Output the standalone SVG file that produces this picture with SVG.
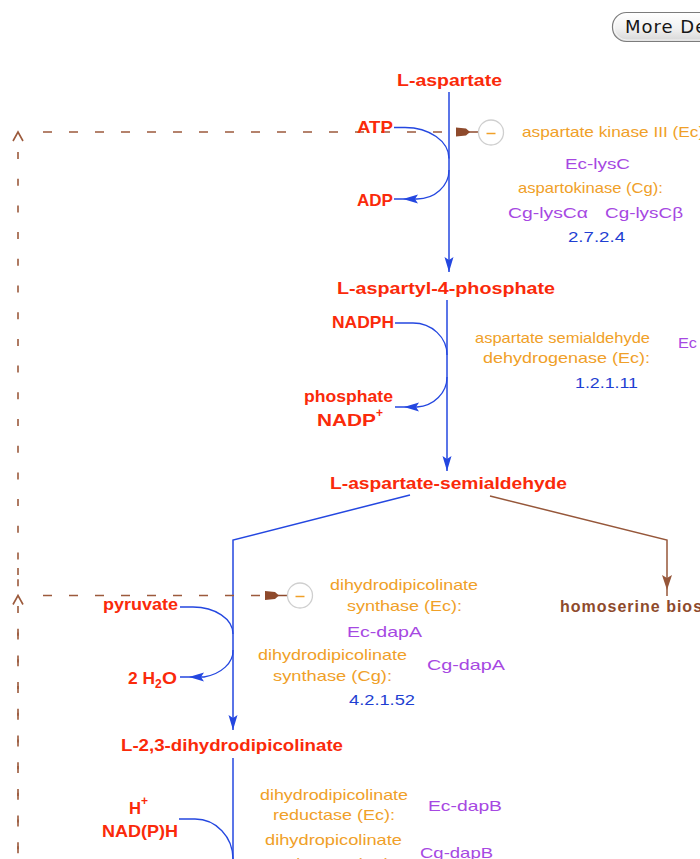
<svg xmlns="http://www.w3.org/2000/svg" xmlns:xlink="http://www.w3.org/1999/xlink" width="700" height="859" viewBox="0 0 700 859">
  <style>
    text { font-family: "Liberation Sans", Arial, sans-serif; }
    .met { font-size: 17px; font-weight: bold; fill: #fa2a0a; }
    .sup { font-size: 12px; font-weight: bold; fill: #fa2a0a; }
    .enz { font-size: 15px; fill: #f0a028; }
    .gene { font-size: 15px; fill: #a648e2; }
    .ec { font-size: 15px; fill: #1f3fd2; }
    .path-out { font-size: 16px; font-weight: bold; fill: #8e4a2c; letter-spacing: 1px; }
    .rxn { fill: none; stroke: #2447e0; stroke-width: 1.5; }
    .side { fill: none; stroke: #2447e0; stroke-width: 1.3; }
    .branch { fill: none; stroke: #96573a; stroke-width: 1.5; }
    .reg { fill: none; stroke: #9c5a3c; stroke-width: 1.6; stroke-dasharray: 9 17; }
    .regv { fill: none; stroke: #9c5a3c; stroke-width: 1.6; stroke-dasharray: 7 19.7; }
    .badge circle { fill: #fff; stroke: #cfcfcf; stroke-width: 1.3; }
    .badge line { stroke: #f0a028; stroke-width: 1.5; }
  </style>
  <defs>
    <linearGradient id="btnFill" x1="0" y1="0" x2="0" y2="1">
      <stop offset="0" stop-color="#ffffff"/>
      <stop offset="0.55" stop-color="#f1f1f1"/>
      <stop offset="1" stop-color="#d6d6d6"/>
    </linearGradient>
    <!-- filled arrowhead, tip at the end of the line -->
    <marker id="arrowBlue" markerUnits="userSpaceOnUse" markerWidth="20" markerHeight="12" refX="15" refY="0" orient="auto" overflow="visible">
      <path d="M0,-4.5 L15,0 L0,4.5 L3,0 z" fill="#2447e0"/>
    </marker>
    <!-- filled arrowhead set back from the end of the line -->
    <marker id="arrowBlueInset" markerUnits="userSpaceOnUse" markerWidth="30" markerHeight="12" refX="24" refY="0" orient="auto" overflow="visible">
      <path d="M0,-4.5 L15,0 L0,4.5 L3,0 z" fill="#2447e0"/>
    </marker>
    <marker id="arrowBrown" markerUnits="userSpaceOnUse" markerWidth="26" markerHeight="12" refX="21" refY="0" orient="auto" overflow="visible">
      <path d="M0,-5 L15,0 L0,5 L3,0 z" fill="#96573a"/>
    </marker>
    <path id="inhibHead" d="M0,-4.5 L10,-3.5 L14,0 L10,3.5 L0,4.5 z" fill="#8e4a2c"/>
    <g id="minusBadge" class="badge">
      <circle cx="0" cy="0" r="12.5"/>
      <line x1="-4.5" y1="1" x2="4.5" y2="1"/>
    </g>
  </defs>

  <rect width="700" height="859" fill="#ffffff"/>

  <!-- "More Detail" button, clipped by the right edge -->
  <g id="more-button">
    <rect x="612.5" y="12.5" width="110" height="29" rx="14" ry="14" fill="url(#btnFill)" stroke="#7c7c7c" stroke-width="1.2"/>
    <rect x="614" y="14" width="107" height="26" rx="13" ry="13" fill="none" stroke="#ffffff" stroke-width="0.8" opacity="0.8"/>
    <text x="625" y="33" style="font-family: 'DejaVu Sans', sans-serif; font-size: 18px; fill: #161616; letter-spacing: 1px;">More De</text>
  </g>

  <!-- connectors -->
  <g id="connectors">
    <!-- main reaction arrows -->
    <path class="rxn" d="M449,92 V272" marker-end="url(#arrowBlue)"/>
    <path class="rxn" d="M447,300 V471" marker-end="url(#arrowBlue)"/>
    <path class="rxn" d="M410,495 L233,540 V730" marker-end="url(#arrowBlue)"/>
    <path class="rxn" d="M233,758 V860"/>
    <path class="branch" d="M490,496 L667,540 V596" marker-end="url(#arrowBrown)"/>

    <!-- side reactants -->
    <path class="side" d="M394,127.5 H405 A44,31 0 0 1 449,158.5"/>
    <path class="side" d="M449,170 A32,29 0 0 1 417,199 H394" marker-end="url(#arrowBlueInset)"/>
    <path class="side" d="M395,323 H413 A34,32 0 0 1 447,355"/>
    <path class="side" d="M447,377 A32,30 0 0 1 417,407 H395" marker-end="url(#arrowBlueInset)"/>
    <path class="side" d="M180,607 H193 A40,27 0 0 1 233,634"/>
    <path class="side" d="M233,650 A38,27 0 0 1 204,677 H180" marker-end="url(#arrowBlueInset)"/>
    <path class="side" d="M179,819 H195 A38,40 0 0 1 233,859"/>

    <!-- feedback inhibition (dashed) -->
    <path class="reg" d="M43,132 H455"/>
    <path class="reg" d="M43,595.5 H264"/>
    <path class="regv" d="M18,152 V860"/>
    <path class="regv" d="M18,568 V582"/>
    <path class="regv" d="M18,610 V860" style="stroke-dashoffset: 8"/>
    <path d="M13,141 L18,132 L23,141" fill="none" stroke="#9c5a3c" stroke-width="1.6"/>
    <path d="M13,604.5 L18,595.5 L23,604.5" fill="none" stroke="#9c5a3c" stroke-width="1.6"/>
    <use xlink:href="#inhibHead" x="456" y="132"/>
    <line x1="469" y1="132" x2="479" y2="132" stroke="#8e4a2c" stroke-width="1.5"/>
    <use xlink:href="#inhibHead" x="265" y="595.5"/>
    <line x1="278" y1="595.5" x2="288" y2="595.5" stroke="#8e4a2c" stroke-width="1.5"/>
    <use xlink:href="#minusBadge" x="491" y="132.5"/>
    <use xlink:href="#minusBadge" x="300" y="595.5"/>
  </g>

  <!-- compounds -->
  <g id="L-aspartate"><text class="met" x="397" y="86" textLength="105" lengthAdjust="spacingAndGlyphs">L-aspartate</text></g>
  <g id="ATP"><text class="met" x="357" y="133" textLength="36" lengthAdjust="spacingAndGlyphs">ATP</text></g>
  <g id="ADP"><text class="met" x="357" y="206" textLength="36" lengthAdjust="spacingAndGlyphs">ADP</text></g>
  <g id="L-aspartyl-4-phosphate"><text class="met" x="337" y="294" textLength="218" lengthAdjust="spacingAndGlyphs">L-aspartyl-4-phosphate</text></g>
  <g id="NADPH"><text class="met" x="332" y="328" textLength="62" lengthAdjust="spacingAndGlyphs">NADPH</text></g>
  <g id="phosphate-NADP">
    <text class="met" x="304" y="402" textLength="89" lengthAdjust="spacingAndGlyphs">phosphate</text>
    <text class="met" x="317" y="426" textLength="59" lengthAdjust="spacingAndGlyphs">NADP</text>
    <text class="sup" x="376" y="417">+</text>
  </g>
  <g id="L-aspartate-semialdehyde"><text class="met" x="330" y="489" textLength="237" lengthAdjust="spacingAndGlyphs">L-aspartate-semialdehyde</text></g>
  <g id="homoserine-biosynthesis"><text class="path-out" x="560" y="612">homoserine biosynthesis</text></g>
  <g id="pyruvate"><text class="met" x="103" y="610" textLength="75" lengthAdjust="spacingAndGlyphs">pyruvate</text></g>
  <g id="water">
    <text class="met" x="128" y="684" textLength="27" lengthAdjust="spacingAndGlyphs">2 H</text>
    <text class="sup" x="155" y="688">2</text>
    <text class="met" x="162" y="684" textLength="15" lengthAdjust="spacingAndGlyphs">O</text>
  </g>
  <g id="L-2-3-dihydrodipicolinate"><text class="met" x="121" y="751" textLength="222" lengthAdjust="spacingAndGlyphs">L-2,3-dihydrodipicolinate</text></g>
  <g id="H-NADPH">
    <text class="met" x="129" y="814" textLength="12" lengthAdjust="spacingAndGlyphs">H</text>
    <text class="sup" x="141" y="805">+</text>
    <text class="met" x="102" y="837" textLength="76" lengthAdjust="spacingAndGlyphs">NAD(P)H</text>
  </g>

  <!-- enzymes -->
  <g id="enzyme-2.7.2.4">
    <text class="enz" x="522" y="137" textLength="187" lengthAdjust="spacingAndGlyphs">aspartate kinase III (Ec):</text>
    <text class="gene" x="565" y="169" textLength="65" lengthAdjust="spacingAndGlyphs">Ec-lysC</text>
    <text class="enz" x="518" y="193" textLength="145" lengthAdjust="spacingAndGlyphs">aspartokinase (Cg):</text>
    <text class="gene" x="508" y="218" textLength="80" lengthAdjust="spacingAndGlyphs">Cg-lysCα</text>
    <text class="gene" x="605" y="218" textLength="78" lengthAdjust="spacingAndGlyphs">Cg-lysCβ</text>
    <text class="ec" x="568" y="242" textLength="57" lengthAdjust="spacingAndGlyphs">2.7.2.4</text>
  </g>
  <g id="enzyme-1.2.1.11">
    <text class="enz" x="475" y="343" textLength="175" lengthAdjust="spacingAndGlyphs">aspartate semialdehyde</text>
    <text class="enz" x="483" y="363" textLength="167" lengthAdjust="spacingAndGlyphs">dehydrogenase (Ec):</text>
    <text class="ec" x="575" y="388" textLength="63" lengthAdjust="spacingAndGlyphs">1.2.1.11</text>
    <text class="gene" x="678" y="348" textLength="19" lengthAdjust="spacingAndGlyphs">Ec</text>
  </g>
  <g id="enzyme-4.2.1.52">
    <text class="enz" x="330" y="590" textLength="148" lengthAdjust="spacingAndGlyphs">dihydrodipicolinate</text>
    <text class="enz" x="347" y="611" textLength="115" lengthAdjust="spacingAndGlyphs">synthase (Ec):</text>
    <text class="gene" x="347" y="637" textLength="75" lengthAdjust="spacingAndGlyphs">Ec-dapA</text>
    <text class="enz" x="258" y="660" textLength="149" lengthAdjust="spacingAndGlyphs">dihydrodipicolinate</text>
    <text class="enz" x="273" y="681" textLength="119" lengthAdjust="spacingAndGlyphs">synthase (Cg):</text>
    <text class="ec" x="349" y="705" textLength="66" lengthAdjust="spacingAndGlyphs">4.2.1.52</text>
    <text class="gene" x="427" y="670" textLength="78" lengthAdjust="spacingAndGlyphs">Cg-dapA</text>
  </g>
  <g id="enzyme-dapB">
    <text class="enz" x="260" y="800" textLength="148" lengthAdjust="spacingAndGlyphs">dihydrodipicolinate</text>
    <text class="enz" x="273" y="820" textLength="122" lengthAdjust="spacingAndGlyphs">reductase (Ec):</text>
    <text class="enz" x="265" y="845" textLength="137" lengthAdjust="spacingAndGlyphs">dihydropicolinate</text>
    <text class="enz" x="275" y="869" textLength="120" lengthAdjust="spacingAndGlyphs">reductase (Cg):</text>
    <text class="gene" x="428" y="811" textLength="74" lengthAdjust="spacingAndGlyphs">Ec-dapB</text>
    <text class="gene" x="420" y="858" textLength="73" lengthAdjust="spacingAndGlyphs">Cg-dapB</text>
  </g>
</svg>
